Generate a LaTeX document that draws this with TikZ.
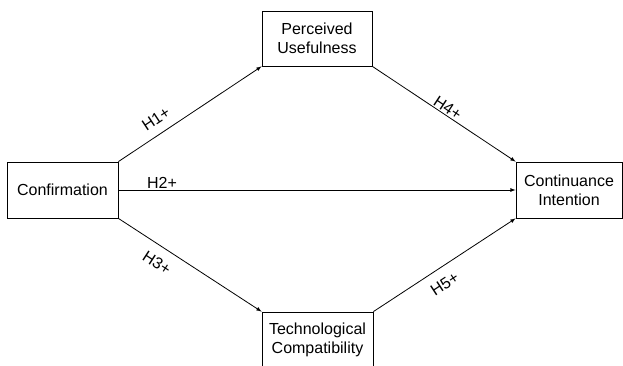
\documentclass[tikz,border=0pt]{standalone}
\usepackage{fontspec}
\setmainfont{Liberation Sans}
\usepackage{tikz}
\usetikzlibrary{arrows.meta}
\tikzset{>=latex}
\tikzset{box/.style={draw, thick, align=center, inner sep=0pt, font=\fontsize{16}{19}\selectfont},
	hyp/.style={sloped, inner sep=0pt, font=\fontsize{16}{19}\selectfont}}

\begin{document}
\begin{tikzpicture}[x=1pt,y=1pt]
				\clip (0,0) rectangle (623,365);
				\useasboundingbox (0,0) rectangle (623,365);
				
				\node[box, minimum width=111pt, minimum height=56pt] (conf) at (62.5,175) {Confirmation};
				\node[box, minimum width=110pt, minimum height=55pt] (pu) at (317,326.5) {Perceived\\Usefulness};
				\node[box, minimum width=111pt, minimum height=56pt] (tc) at (317.5,25) {Technological\\Compatibility};
				\node[box, minimum width=106pt, minimum height=56pt] (ci) at (569,175) {Continuance\\Intention};
				
				\draw[thick,->] (conf.north east)--(pu.south west) node[hyp, above=9pt, pos=0.32] (h1) {H1+};
				\draw[thick,->] (conf.east)--(ci.west) node[hyp, above=1pt, pos=0.11] (h2) {H2+};
				\draw[thick,->] (conf.south east)--(tc.north west) node[hyp, below=10pt, pos=0.33] (h3) {H3+};
				\draw[thick,->] (pu.south east)--(ci.north west) node[hyp, above=1pt, pos=0.5] (h4) {H4+};
				\draw[thick,->] (tc.north east)--(ci.south west) node[hyp, below=10pt, pos=0.44] (h5) {H5+};
			\end{tikzpicture}
\end{document}
